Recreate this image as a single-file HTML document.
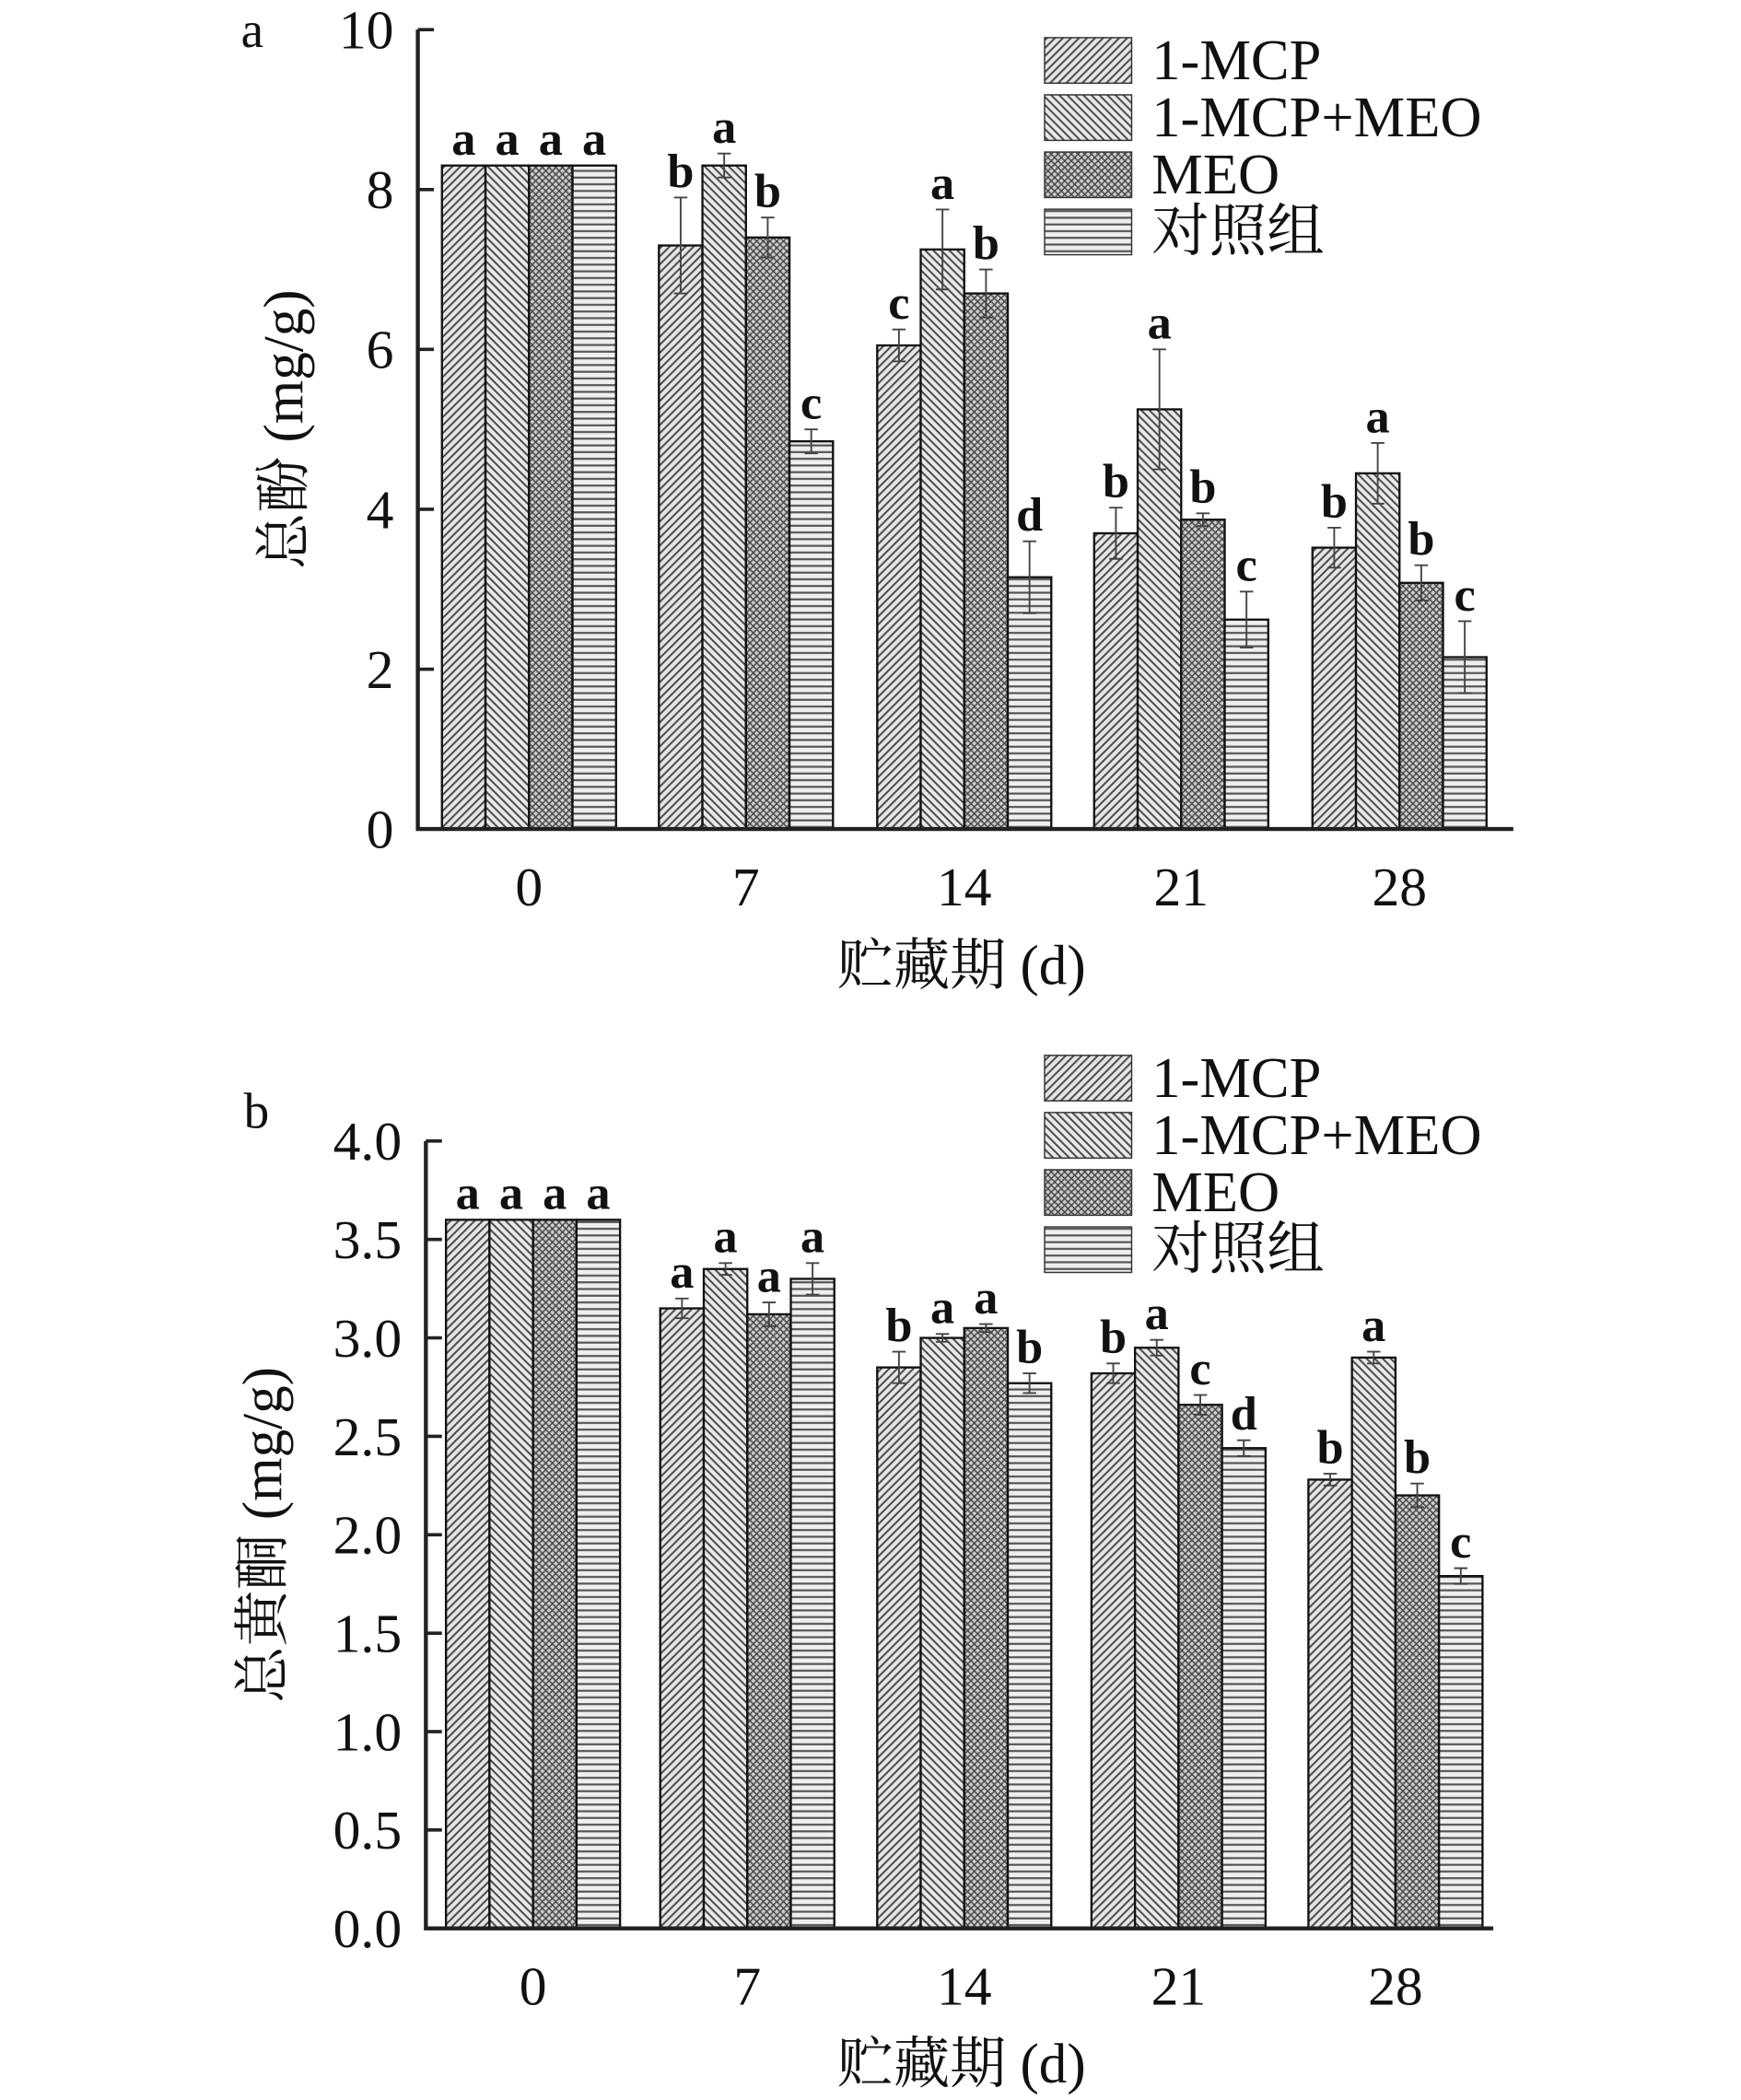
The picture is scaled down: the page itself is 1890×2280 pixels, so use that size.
<!DOCTYPE html>
<html><head><meta charset="utf-8"><style>
html,body{margin:0;padding:0;background:#fff;}
svg{display:block;}
text{font-family:"Liberation Serif","Noto Serif CJK SC",serif;fill:#111;}
</style></head><body>
<svg id="svg" width="1890" height="2280" viewBox="0 0 1300 1568" xmlns="http://www.w3.org/2000/svg">
<defs>
<pattern id="p0" patternUnits="userSpaceOnUse" width="6" height="6"><rect width="6" height="6" fill="#e4e4e4"/><path d="M-1,7 L7,-1 M-1,1 L1,-1 M5,7 L7,5" stroke="#444" stroke-width="1.3"/></pattern>
<pattern id="p1" patternUnits="userSpaceOnUse" width="6" height="6"><rect width="6" height="6" fill="#e8e8e8"/><path d="M-1,-1 L7,7 M5,-1 L7,1 M-1,5 L1,7" stroke="#444" stroke-width="1.3"/></pattern>
<pattern id="p2" patternUnits="userSpaceOnUse" width="5" height="5"><rect width="5" height="5" fill="#ccc"/><path d="M0,0 L5,5 M5,0 L0,5" stroke="#444" stroke-width="1"/></pattern>
<pattern id="p3" patternUnits="userSpaceOnUse" width="5" height="5"><rect width="5" height="5" fill="#eee"/><path d="M0,2.5 L5,2.5" stroke="#555" stroke-width="1.5"/></pattern>
</defs>
<g id="chartA"></g>
<g id="chartB"></g>
</svg>
<script>
const days = ["0","7","14","21","28"];
const seriesNames = ["1-MCP","1-MCP+MEO","MEO","对照组"];
const aValues = [[8.3,7.3,6.05,3.7,3.52],[8.3,8.3,7.25,5.25,4.45],[8.3,7.4,6.7,3.87,3.08],[8.3,4.85,3.15,2.62,2.15]];
const aErrors = [[0,0.6,0.2,0.32,0.25],[0,0.15,0.5,0.75,0.38],[0,0.25,0.3,0.08,0.22],[0,0.15,0.45,0.35,0.45]];
const aLetters = [["a","b","c","b","b"],["a","a","a","a","a"],["a","b","b","b","b"],["a","c","d","c","c"]];
const aTicks = [0,2,4,6,8,10];
const bValues = [[3.6,3.15,2.85,2.82,2.28],[3.6,3.35,3.0,2.95,2.9],[3.6,3.12,3.05,2.66,2.2],[3.6,3.3,2.77,2.44,1.79]];
const bErrors = [[0,0.05,0.08,0.05,0.03],[0,0.03,0.02,0.04,0.03],[0,0.06,0.02,0.05,0.06],[0,0.08,0.05,0.04,0.04]];
const bLetters = [["a","a","b","b","b"],["a","a","a","a","a"],["a","a","a","c","b"],["a","a","b","d","c"]];
const bTicks = ["0.0","0.5","1.0","1.5","2.0","2.5","3.0","3.5","4.0"];
const NS="http://www.w3.org/2000/svg";
function mk(parent,tag,attrs,txt){const e=document.createElementNS(NS,tag);for(const k in attrs)e.setAttribute(k,attrs[k]);if(txt!==undefined)e.textContent=txt;parent.appendChild(e);return e;}
function draw(g,cfg){
  const {ax,yTop,y0,xEnd,max,ticks,vals,errs,lets,centers,yTitle,yTitleX,xTitleY,panel,panelX,panelY,legY}=cfg;
  const ys=v=>y0-(v/max)*(y0-yTop);
  const bw=32.5;
  for(let d=0;d<days.length;d++){
    for(let s=0;s<4;s++){
      const x=centers[d]-2*bw+s*bw, v=vals[s][d], y=ys(v);
      const r=mk(g,'rect',{x:x,y:y,width:bw,height:y0-y,fill:`url(#p${s})`,stroke:'#111','stroke-width':1.6});
      
      
      const e=errs[s][d];
      if(e>0){
        const cx=x+bw/2;
        const eb=mk(g,'path',{d:`M${cx},${ys(v+e)} L${cx},${ys(v-e)} M${cx-5},${ys(v+e)} L${cx+5},${ys(v+e)} M${cx-5},${ys(v-e)} L${cx+5},${ys(v-e)}`,stroke:'#444','stroke-width':1.3,fill:'none'});
        
        
      }
      const t=mk(g,'text',{x:x+bw/2,y:ys(v+e)-8,'font-size':36,'font-weight':'bold','text-anchor':'middle'},lets[s][d]);
      
      
    }
    const xl=mk(g,'text',{x:centers[d],y:y0+57,'font-size':41,'text-anchor':'middle'},days[d]);
    
    
  }
  const axes=mk(g,'path',{d:`M${ax},${yTop} L${ax},${y0} L${xEnd},${y0}`,stroke:'#222','stroke-width':3,fill:'none'});
  
  
  ticks.forEach((tk,i)=>{
    const y=yTop+(y0-yTop)*(1-i/(ticks.length-1));
    mk(g,'path',{d:`M${ax},${y} L${ax+12},${y}`,stroke:'#222','stroke-width':2.5});
    const t=mk(g,'text',{x:ax-18,y:y+14,'font-size':41,'text-anchor':'end'},tk);
    
    
  });
  const yt=mk(g,'text',{x:0,y:0,'font-size':42,'text-anchor':'middle',transform:`translate(${yTitleX},${(yTop+y0)/2}) rotate(-90)`},yTitle);
  
  
  const xt=mk(g,'text',{x:718,y:xTitleY,'font-size':42,'text-anchor':'middle'},'贮藏期 (d)');
  
  
  const pl=mk(g,'text',{x:panelX,y:panelY,'font-size':38},panel);
  
  
  seriesNames.forEach((n,s)=>{
    const y=legY+s*42.7;
    const lb=mk(g,'rect',{x:780,y:y,width:65,height:34,fill:`url(#p${s})`,stroke:'#333','stroke-width':1});
    
    
    const lt=mk(g,'text',{x:860,y:y+31,'font-size':43},n);
    
    
  });
}
draw(document.getElementById('chartA'),{ax:312,yTop:22,y0:619,xEnd:1130,max:10,ticks:aTicks.map(String),vals:aValues,errs:aErrors,lets:aLetters,centers:[395,557,720,882,1045],yTitle:'总酚 (mg/g)',yTitleX:226,xTitleY:735,panel:'a',panelX:180,panelY:35,legY:28});
draw(document.getElementById('chartB'),{ax:318,yTop:852,y0:1440,xEnd:1115,max:4,ticks:bTicks,vals:bValues,errs:bErrors,lets:bLetters,centers:[398,558,720,880,1042],yTitle:'总黄酮 (mg/g)',yTitleX:210,xTitleY:1555,panel:'b',panelX:182,panelY:842,legY:788});
</script>
</body></html>
